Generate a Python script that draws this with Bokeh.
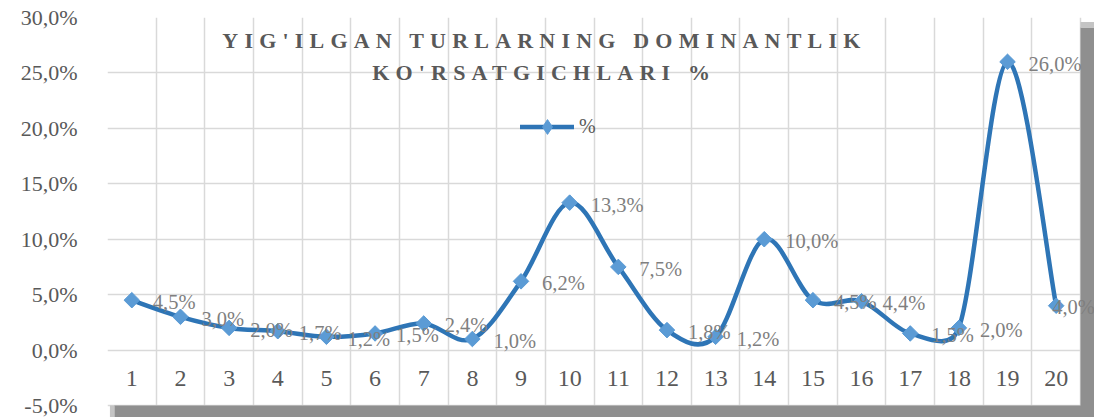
import numpy as np
from bokeh.plotting import figure
from bokeh.layouts import column
from bokeh.models import (FixedTicker, CustomJSTickFormatter, Legend, LegendItem,
                          Label, Range1d, Grid)
from bokeh.core.properties import value
from bokeh.embed import file_html
from bokeh.resources import INLINE

# ---------------- data ----------------
categories = list(range(1, 21))
cat_labels = [str(c) for c in categories]
values = [4.5, 3.0, 2.0, 1.7, 1.2, 1.5, 2.4, 1.0, 6.2, 13.3,
          7.5, 1.8, 1.2, 10.0, 4.5, 4.4, 1.5, 2.0, 26.0, 4.0]
value_labels = [f"{v:.1f}".replace(".", ",") + "%" for v in values]
y_ticks = [-5, 0, 5, 10, 15, 20, 25, 30]
series_name = "%"
title_lines = ["YIG'ILGAN TURLARNING DOMINANTLIK", "KO'RSATGICHLARI %"]

# ---------------- layout ----------------
W, H = 1094, 417
left_b, top_b = 107, 17
frame_w = W - left_b
frame_h = H - top_b
box_w, box_h = 973, 388
x0, x1 = categories[0] - 0.5, categories[-1] + 0.5
y0, y1 = y_ticks[0], y_ticks[-1]
px_x = box_w / (x1 - x0)
px_y = box_h / (y1 - y0)
x_end = x1 + (frame_w - box_w) / px_x
y_start = y0 - (frame_h - box_h) / px_y

FONT = "Liberation Serif"
LINE_C = "#2e75b6"
MARK_C = "#5b9bd5"
SHADOW = "#8f8f8f"

xr = Range1d(x0, x_end)
yr = Range1d(y_start, y1)

p = figure(width=W, height=H, x_range=xr, y_range=yr,
           min_border_left=left_b, min_border_right=0, min_border_top=top_b,
           min_border_bottom=0, x_axis_location=None, output_backend="svg",
           toolbar_location=None, title=None)
p.background_fill_color = "white"
p.border_fill_color = "white"
p.outline_line_color = None
p.grid.visible = False

# grids
vgrid = Grid(dimension=0, ticker=FixedTicker(ticks=[c - 0.5 for c in categories] + [x1]),
             grid_line_color="#d9d9d9", grid_line_width=1.5)
hgrid = Grid(dimension=1, ticker=FixedTicker(ticks=y_ticks),
             grid_line_color="#d9d9d9", grid_line_width=1.5)
p.add_layout(vgrid)
p.add_layout(hgrid)

# y axis
ya = p.yaxis[0]
ya.ticker = FixedTicker(ticks=y_ticks)
ya.formatter = CustomJSTickFormatter(code="return tick.toFixed(1).replace('.', ',') + '%';")
ya.axis_line_color = None
ya.major_tick_line_color = None
ya.minor_tick_line_color = None
ya.major_label_standoff = 24
ya.major_label_text_font = FONT
ya.major_label_text_font_size = "22px"
ya.major_label_text_color = "#595959"

# shadow of the chart box
p.quad(left=[x1], right=[x_end], bottom=[y_start], top=[y1 - 0.9],
       fill_color=SHADOW, line_color=None)
p.quad(left=[x1], right=[x_end], bottom=[y1 - 0.9], top=[y1 - 0.4],
       fill_color="#c4c4c4", line_color=None)
p.quad(left=[x0 + 0.14], right=[x_end], bottom=[y_start], top=[y0],
       fill_color=SHADOW, line_color=None)
p.quad(left=[x0 + 0.05], right=[x0 + 0.14], bottom=[y_start], top=[y0],
       fill_color="#c4c4c4", line_color=None)

# smoothed line (Excel-style bezier)
xs = np.array(categories, float)
ys = np.array(values, float)
n = len(xs)
bx0, by0, bx1, by1, cx0, cy0, cx1, cy1 = ([] for _ in range(8))
sc = np.array([px_x, px_y])
for i in range(n - 1):
    i0 = max(i - 1, 0)
    i3 = min(i + 2, n - 1)
    P0 = np.array([xs[i0], ys[i0]]); P1 = np.array([xs[i], ys[i]])
    P2 = np.array([xs[i + 1], ys[i + 1]]); P3 = np.array([xs[i3], ys[i3]])
    d02 = np.linalg.norm((P2 - P0) * sc)
    d13 = np.linalg.norm((P3 - P1) * sc)
    d12 = np.linalg.norm((P2 - P1) * sc)
    f1 = 1 / 6 if d02 / 6 < d12 / 2 or d02 == 0 else d12 / (2 * d02)
    f2 = 1 / 6 if d13 / 6 < d12 / 2 or d13 == 0 else d12 / (2 * d13)
    B1 = P1 + (P2 - P0) * f1
    B2 = P2 - (P3 - P1) * f2
    bx0.append(P1[0]); by0.append(P1[1]); bx1.append(P2[0]); by1.append(P2[1])
    cx0.append(B1[0]); cy0.append(B1[1]); cx1.append(B2[0]); cy1.append(B2[1])

bez = p.bezier(x0=bx0, y0=by0, x1=bx1, y1=by1, cx0=cx0, cy0=cy0, cx1=cx1, cy1=cy1,
               line_color=LINE_C, line_width=4.5, line_cap="round")
# diamond key (covered by the rotated squares; used for the legend symbol)
legend_marker = p.scatter(x=categories, y=values, marker="diamond", size=14,
                          fill_color=MARK_C, line_color=MARK_C)
p.scatter(x=categories, y=values, marker="square", size=11, angle=np.pi / 4,
          fill_color=MARK_C, line_color=MARK_C)

# data labels (last one sits over its point, as in the original)
p.text(x=categories[:-1], y=values[:-1], text=value_labels[:-1], x_offset=21, y_offset=2,
       text_align="left", text_baseline="middle", text_font=value(FONT),
       text_font_size="20.5px", text_color="#7f7f7f")
p.text(x=categories[-1:], y=values[-1:], text=value_labels[-1:], x_offset=-4, y_offset=1,
       text_align="left", text_baseline="middle", text_font=value(FONT),
       text_font_size="20.5px", text_color="#7f7f7f")

# category labels (inside plot, below the 0 line)
p.text(x=categories, y=[-2.6] * len(categories), text=cat_labels,
       text_align="center", text_baseline="middle", text_font=value(FONT),
       text_font_size="24px", text_color="#595959")

legend = Legend(items=[LegendItem(label=series_name, renderers=[bez, legend_marker])],
                location=(413, 272), orientation="horizontal", glyph_width=54,
                glyph_height=37, label_text_font=FONT, label_text_font_size="20px",
                label_text_color="#595959", border_line_color=None,
                background_fill_alpha=0, padding=0, margin=0, label_standoff=5)
p.add_layout(legend)

# transparent overlay figure carrying the letter-spaced title
pt = figure(width=W, height=H, x_range=xr, y_range=yr,
            min_border_left=left_b, min_border_right=0, min_border_top=top_b,
            min_border_bottom=0, x_axis_location=None, y_axis_location=None,
            output_backend="svg", toolbar_location=None, title=None)
pt.background_fill_alpha = 0
pt.border_fill_alpha = 0
pt.outline_line_color = None
pt.grid.visible = False
pt.styles = {"position": "absolute", "left": "0px", "top": "0px",
             "letter-spacing": "6.2px", "pointer-events": "none"}
for txt, tx, ty in zip(title_lines, [2.86, 5.94], [27.92, 25.04]):
    pt.add_layout(Label(x=tx, y=ty, text=txt, text_align="left", text_baseline="middle",
                        text_font=FONT, text_font_style="bold", text_font_size="22px",
                        text_color="#595959"))

layout = column(p, pt)
open("out.html", "w").write(file_html(layout, INLINE))
